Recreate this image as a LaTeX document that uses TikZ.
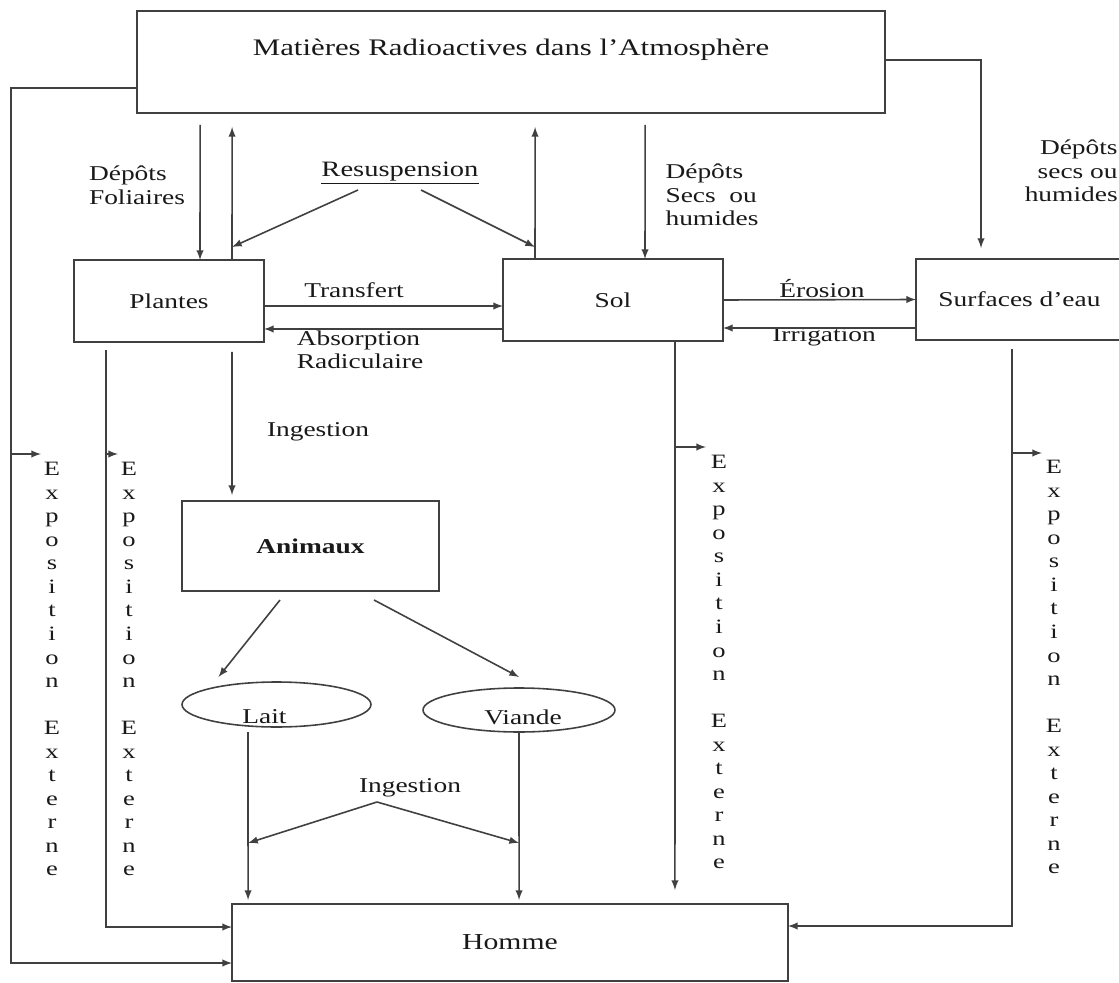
\documentclass[tikz,border=0pt]{standalone}
\usepackage{fontspec}
\setmainfont{Liberation Serif}[FakeStretch=1.3]
\usetikzlibrary{shapes,arrows,calc}

\newcommand{\expotext}{E\\x\\p\\o\\s\\i\\t\\i\\o\\n\\[13.4pt]E\\x\\t\\e\\r\\n\\e}

\begin{document}
\begin{tikzpicture}[x=0.02cm, y=-0.02cm, >=latex,
  every node/.style={text=black!90},
  box/.style={draw=black!75, rectangle, line width=.9pt, outer sep=0pt, inner sep=0pt,
    font=\fontsize{12}{14}\selectfont},
  oval/.style={draw=black!75, ellipse, line width=.9pt, outer sep=0pt, inner sep=0pt},
  lbl/.style={font=\fontsize{12}{13.4}\selectfont, inner sep=0pt},
  vert/.style={font=\fontsize{11.6}{13.4}\selectfont, align=center, inner sep=0pt, anchor=north},
  arr/.style={->, line width=.9pt, draw=black!75}]
\useasboundingbox (0,0) rectangle (1119,983);

% boxes
\node[box, minimum width=14.96cm, minimum height=2.04cm] (atm) at (511,62) {};
\node[font=\fontsize{13.5}{16}\selectfont, inner sep=0pt] (atmtxt) at ($(atm.center)+(0,-12)$) {Matières Radioactives dans l’Atmosphère};
\node[box, minimum width=3.8cm, minimum height=1.64cm] (plantes) at (169,301) {Plantes};
\node[box, minimum width=4.4cm, minimum height=1.64cm] (sol) at (613,300) {Sol};
\node[box, minimum width=4.14cm, minimum height=1.62cm] (surf) at (1019.5,299.5) {Surfaces d’eau};
\node[box, minimum width=5.14cm, minimum height=1.8cm, font=\fontsize{12}{14}\selectfont\bfseries] (anim) at (310.5,546) {Animaux};
\node[oval, minimum width=3.78cm, minimum height=0.9cm] (lait) at (276.5,704.5) {};
\node[lbl] (laittxt) at ($(lait.center)+(-12,12)$) {Lait};
\node[oval, minimum width=3.84cm, minimum height=0.88cm] (viande) at (519,710) {};
\node[lbl] (viandetxt) at ($(viande.center)+(4,7)$) {Viande};
\node[box, minimum width=11.12cm, minimum height=1.54cm, font=\fontsize{13}{15}\selectfont] (homme) at (510,942.5) {Homme};

% labels
\node[lbl, align=left] (foli) at (137,185) {Dépôts\\Foliaires};
\node[lbl, font=\fontsize{12.5}{14}\selectfont] (resus) at (400,173) {\underline{Resuspension}};
\node[lbl, align=left] (secs) at (712,195) {Dépôts\\Secs~~ou\\humides};
\node[lbl, align=right, anchor=east] (secsb) at (1118,171) {Dépôts\\secs ou\\humides};
\node[lbl] (transf) at (354,290) {Transfert};
\node[lbl, align=left] (absor) at (360,350) {Absorption\\Radiculaire};
\node[lbl] (eros) at (822,289) {Érosion};
\node[lbl] (irrig) at (824,337) {Irrigation};
\node[lbl] (ingA) at (318,432) {Ingestion};
\node[lbl] (ingB) at (410,788) {Ingestion};
\node[vert] (expoA) at (52,462) {\expotext};
\node[vert] (expoB) at (129,462) {\expotext};
\node[vert] (expoC) at (719,455) {\expotext};
\node[vert] (expoD) at (1054,460) {\expotext};

% depots and resuspension
\draw[arr] ($(atm.south west)+(63,12)$) -- ($(plantes.north west)+(126,0)$);
\draw[arr] ($(plantes.north west)+(158,0)$) -- ($(atm.south west)+(95,14)$);
\draw[arr] ($(resus.center)+(-42,17)$) -- ($(plantes.north west)+(158,-13)$);
\draw[arr] ($(resus.center)+(21,17)$) -- ($(sol.north west)+(32,-12)$);
\draw[arr] ($(sol.north west)+(32,0)$) -- ($(atm.south west)+(398,14)$);
\draw[arr] ($(atm.south west)+(508,12)$) -- ($(sol.north west)+(142,0)$);
\draw[arr] ($(atm.north east)+(0,49)$) -| ($(surf.north west)+(65,-11)$);

% transfers
\draw[arr] ($(plantes.north east)+(0,46)$) -- ($(sol.north west)+(0,47)$);
\draw[arr] ($(sol.south west)+(0,-12)$) -- ($(plantes.south east)+(0,-13)$);
\draw[arr] (sol.east) -- (surf.west);
\draw[arr] ($(surf.south west)+(0,-12)$) -- ($(sol.south east)+(0,-13)$);

% ingestion
\draw[arr] ($(plantes.south west)+(158,10)$) -- ($(anim.north west)+(50,-6)$);
\draw[arr] ($(anim.south west)+(98,9)$) -- ($(lait.north)+(-58,-5)$);
\draw[arr] ($(anim.south west)+(192,9)$) -- ($(viande.north)+(0,-11)$);
\draw[arr] ($(lait.south)+(-28.5,5)$) -- ($(homme.north west)+(16,-4)$);
\draw[arr] (viande.south) -- ($(homme.north west)+(287,-4)$);
\draw[arr] ($(ingB.center)+(-33,14)$) -- ($(homme.north west)+(16,-61)$);
\draw[arr] ($(ingB.center)+(-33,14)$) -- ($(homme.north west)+(287,-61)$);

% exposition externe
\draw[arr] ($(atm.south west)+(0,-25)$) -| (11,963) -- ($(homme.south west)+(0,-18)$);
\draw[arr] (11,454) -- ++(30,0);
\draw[arr] ($(plantes.south west)+(32,8)$) |- ($(homme.north west)+(0,23)$);
\draw[arr] (106,454) -- ++(12,0);
\draw[arr] ($(sol.south west)+(172,0)$) -- ($(homme.north east)+(-113,-14)$);
\draw[arr] (675,447) -- ++(31,0);
\draw[arr] ($(surf.south west)+(96,9)$) |- ($(homme.north east)+(0,22)$);
\draw[arr] (1012,453) -- ++(30,0);
\end{tikzpicture}
\end{document}
